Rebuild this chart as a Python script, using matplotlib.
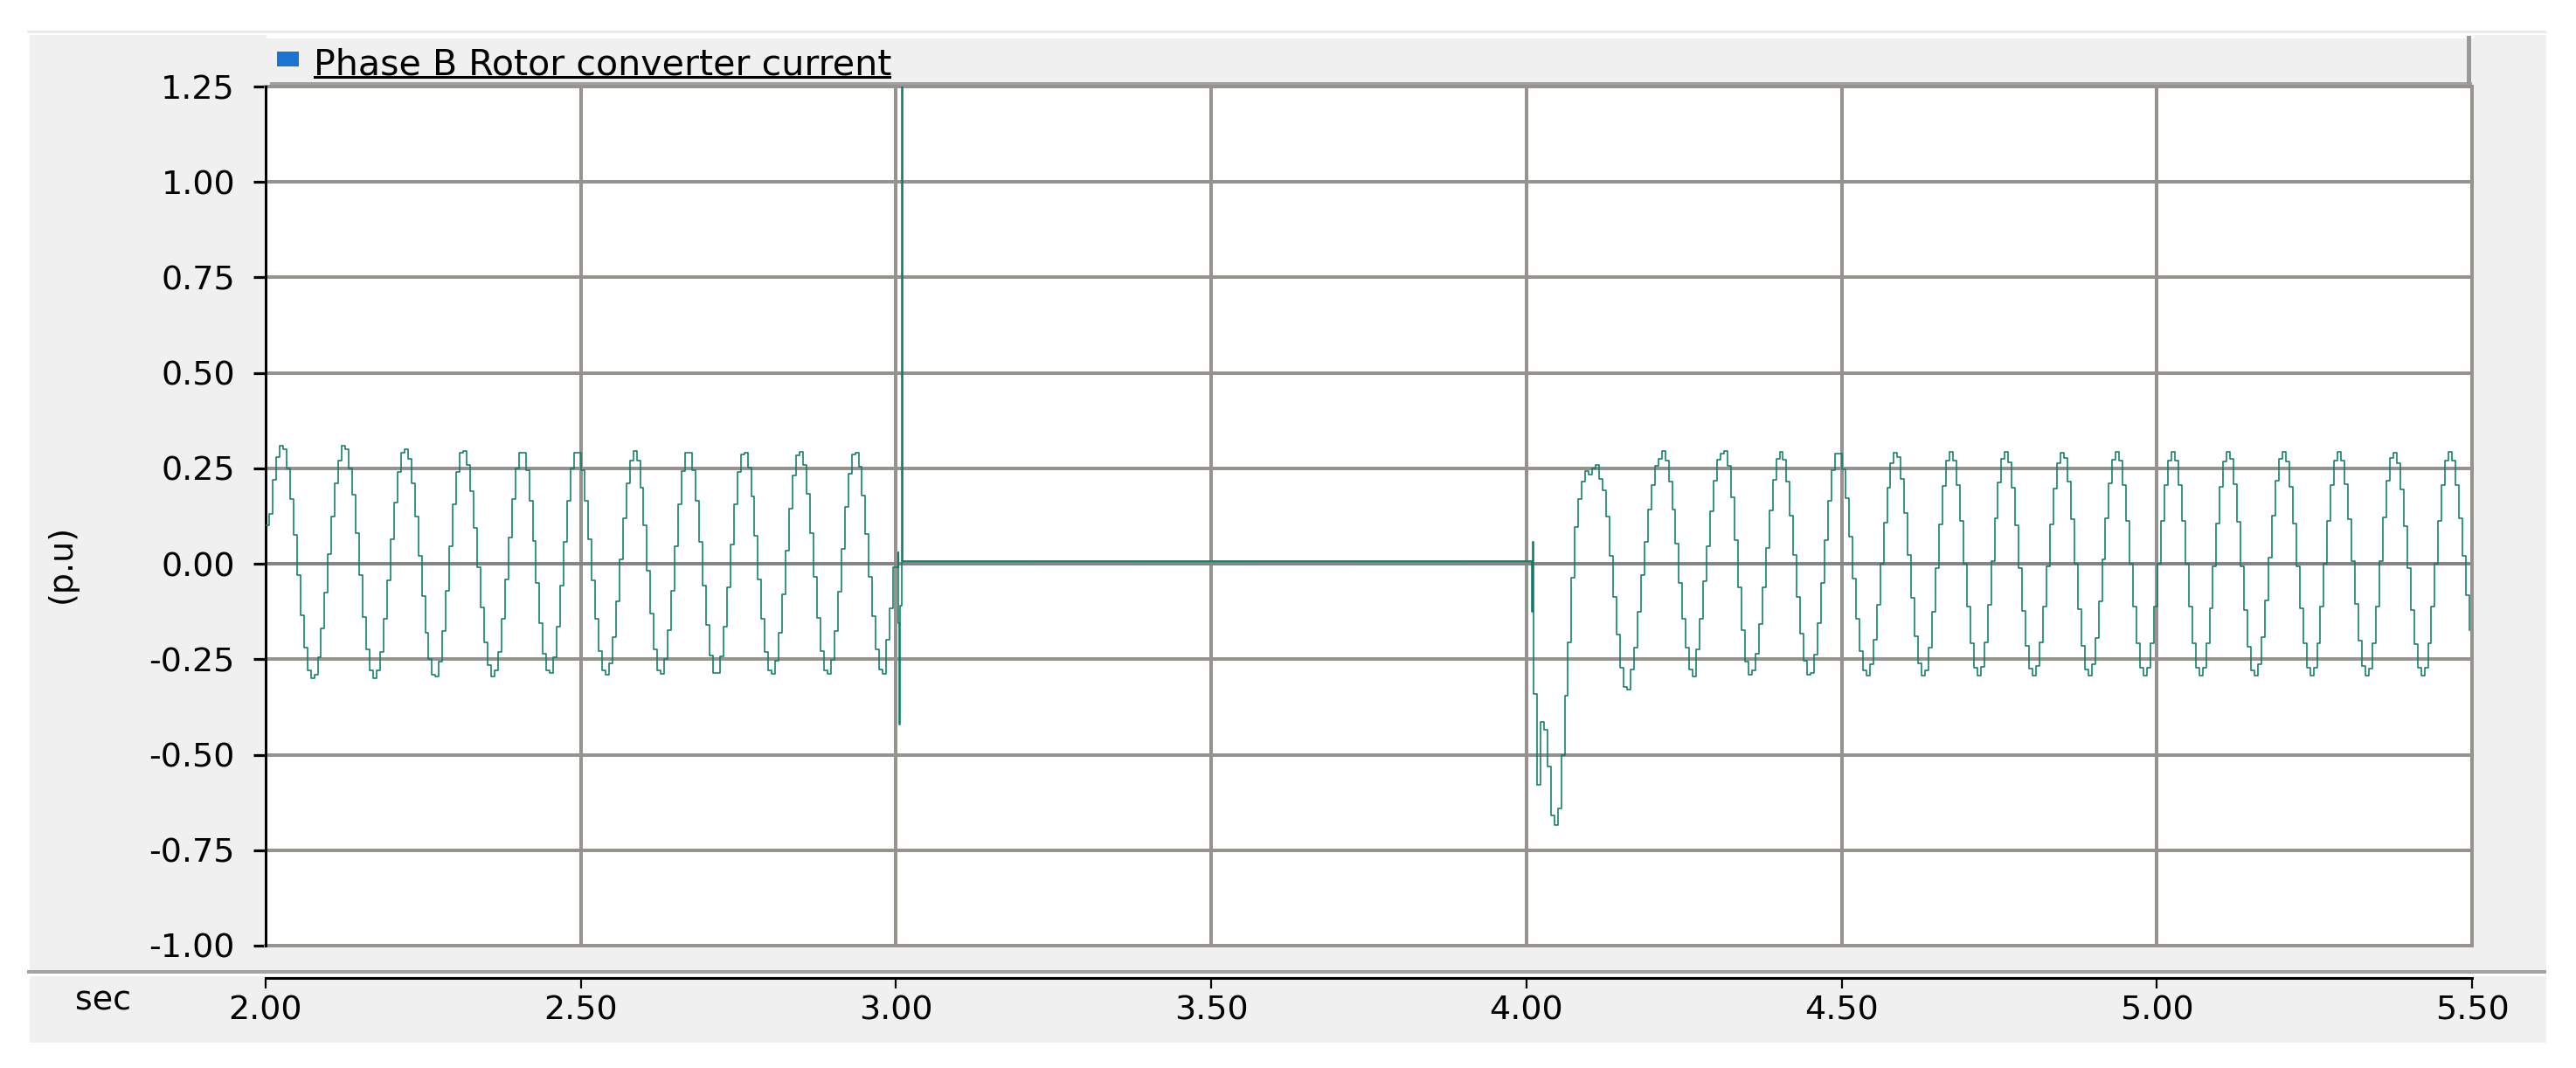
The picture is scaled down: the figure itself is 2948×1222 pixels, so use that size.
import numpy as np
import matplotlib
matplotlib.use("Agg")
import matplotlib.pyplot as plt
from matplotlib.patches import Rectangle

# ---------------- data ----------------
DT = 0.0055                      # sample interval of the staircase signal (s)
PRE_T0 = 2.0                     # first pre-fault sample time
pre_vals = [
    0.10, 0.13, 0.22, 0.28, 0.31,
    0.30, 0.25, 0.17, 0.075, -0.03, -0.135, -0.22, -0.28, -0.30,
    -0.29, -0.245, -0.17, -0.076, 0.026, 0.125, 0.21, 0.27, 0.31,
    0.30, 0.25, 0.18, 0.08, -0.03, -0.14, -0.225, -0.28, -0.30,
    -0.28, -0.23, -0.145, -0.043, 0.064, 0.16, 0.24, 0.29, 0.30,
    0.275, 0.21, 0.125, 0.02, -0.085, -0.18, -0.25, -0.29, -0.295,
    -0.255, -0.175, -0.07, 0.047, 0.155, 0.24, 0.29, 0.295,
    0.26, 0.19, 0.095, -0.01, -0.115, -0.205, -0.265, -0.295,
    -0.28, -0.23, -0.145, -0.04, 0.07, 0.17, 0.25, 0.29,
    0.29, 0.245, 0.165, 0.06, -0.05, -0.155, -0.235, -0.28,
    -0.285, -0.245, -0.165, -0.058, 0.058, 0.165, 0.25, 0.29,
    0.29, 0.245, 0.165, 0.065, -0.044, -0.145, -0.228, -0.278,
    -0.29, -0.26, -0.193, -0.098, 0.011, 0.12, 0.21, 0.27, 0.295,
    0.27, 0.20, 0.10, -0.018, -0.13, -0.223, -0.278,
    -0.288, -0.25, -0.174, -0.07, 0.047, 0.157, 0.243, 0.29,
    0.29, 0.245, 0.164, 0.058, -0.057, -0.16, -0.24, -0.285,
    -0.285, -0.243, -0.164, -0.061, 0.051, 0.157, 0.24, 0.287,
    0.29, 0.252, 0.176, 0.073, -0.04, -0.145, -0.23, -0.28,
    -0.288, -0.253, -0.18, -0.079, 0.035, 0.144, 0.232, 0.284,
    0.293, 0.258, 0.183, 0.08, -0.034, -0.142, -0.228, -0.279,
    -0.288, -0.252, -0.177, -0.074, 0.04, 0.15, 0.237, 0.287,
    0.292, 0.254, 0.179, 0.078, -0.033, -0.138, -0.224, -0.276, -0.289,
    -0.20, -0.117, -0.01,
]

# fault inception transient (irregular times)
fault_t = [3.0030, 3.0039, 3.0053, 3.0067, 3.0087, 3.0101]
fault_v = [0.03, -0.155, -0.42, -0.11, 1.40, 0.006]
HOLD_LEVEL = 0.006               # converter blocked during the fault
HOLD_END = 4.0090

# recovery glitch (irregular times)
recov_t = [4.0090, 4.0105]
recov_v = [-0.125, 0.058]

POST_T0 = 4.0 + 2 * DT           # first regular post-fault sample
post_vals = [
    -0.34, -0.578, -0.415, -0.434, -0.53, -0.658, -0.685, -0.64, -0.50, -0.346, -0.205, -0.037,
    0.097, 0.169, 0.215, 0.243, 0.234, 0.25, 0.258, 0.222, 0.192, 0.123, 0.02, -0.087, -0.186, -0.273, -0.323, -0.33,
    -0.277, -0.22, -0.125, -0.03, 0.058, 0.142, 0.207, 0.257, 0.276, 0.295, 0.27, 0.215, 0.142,
    0.052, -0.05, -0.144, -0.22, -0.276, -0.296, -0.224, -0.143, -0.045, 0.047, 0.138, 0.218, 0.272, 0.289, 0.296,
    0.256, 0.175, 0.062, -0.062, -0.174, -0.256, -0.29,
    -0.28, -0.235, -0.158, -0.062, 0.042, 0.14, 0.22, 0.275, 0.293,
    0.273, 0.215, 0.127, 0.022, -0.086, -0.183, -0.254, -0.29,
    -0.285, -0.238, -0.156, -0.051, 0.062, 0.166, 0.245, 0.288,
    0.288, 0.247, 0.171, 0.071, -0.039, -0.143, -0.228, -0.28,
    -0.292, -0.264, -0.2, -0.107, 0.0, 0.107, 0.2, 0.264, 0.292,
    0.279, 0.223, 0.133, 0.023, -0.09, -0.19, -0.26, -0.292,
    -0.278, -0.219, -0.126, -0.012, 0.104, 0.203, 0.27, 0.293,
    0.271, 0.207, 0.112, 0.0, -0.112, -0.207, -0.271, -0.293,
    -0.27, -0.205, -0.108, 0.006, 0.119, 0.213, 0.275, 0.293,
    0.266, 0.199, 0.101, -0.011, -0.123, -0.215, -0.275, -0.293,
    -0.268, -0.205, -0.113, -0.006, 0.103, 0.197, 0.263, 0.292,
    0.277, 0.216, 0.118, 0.0, -0.118, -0.216, -0.277, -0.292,
    -0.263, -0.195, -0.099, 0.011, 0.12, 0.211, 0.272, 0.293,
    0.271, 0.207, 0.112, 0.0, -0.112, -0.207, -0.271, -0.293,
    -0.271, -0.207, -0.112, 0.0, 0.112, 0.207, 0.271, 0.293,
    0.271, 0.207, 0.112, 0.0, -0.112, -0.207, -0.271, -0.293,
    -0.271, -0.209, -0.116, -0.006, 0.105, 0.201, 0.267, 0.293,
    0.274, 0.209, 0.111, -0.006, -0.122, -0.217, -0.278, -0.292,
    -0.262, -0.193, -0.095, 0.017, 0.127, 0.217, 0.275, 0.293,
    0.267, 0.201, 0.105, -0.006, -0.116, -0.209, -0.271, -0.293,
    -0.271, -0.207, -0.112, 0.0, 0.112, 0.207, 0.271, 0.293,
    0.271, 0.209, 0.116, 0.006, -0.105, -0.201, -0.267, -0.293,
    -0.274, -0.209, -0.111, 0.006, 0.122, 0.217, 0.278, 0.292,
    0.263, 0.195, 0.099, -0.011, -0.12, -0.211, -0.272, -0.293,
    -0.271, -0.207, -0.112, 0.0, 0.112, 0.207, 0.271, 0.293,
    0.271, 0.207, 0.12, 0.02, -0.083, -0.174,
]

x_ticks = [2.0, 2.5, 3.0, 3.5, 4.0, 4.5, 5.0, 5.5]
y_ticks = [-1.00, -0.75, -0.50, -0.25, 0.00, 0.25, 0.50, 0.75, 1.00, 1.25]
legend_label = "Phase B Rotor converter current"
x_unit = "sec"
y_label = "(p.u)"

# ---------------- assemble series ----------------
pre_t = PRE_T0 + DT * np.arange(len(pre_vals))
post_t = POST_T0 + DT * np.arange(len(post_vals))
t_all = np.concatenate([pre_t, fault_t, recov_t, post_t])
v_all = np.concatenate([pre_vals, fault_v, recov_v, post_vals])

hold_t = np.arange(fault_t[-1], HOLD_END, DT)
hold_v = np.full(len(hold_t), HOLD_LEVEL)

# ---------------- figure ----------------
W, H = 2948, 1222
DPI = 200
PT = 72.0 / DPI   # points per pixel
fig = plt.figure(figsize=(W / DPI, H / DPI), dpi=DPI)
fig.patch.set_facecolor("white")
plt.rcParams["font.family"] = ["DejaVu Sans"]

PANEL = "#f0f0f0"
GRID = "#96938e"
ZERO = "#858585"
LINE = "#0f7d66"
FS = 13.7


def px_rect(x0, y0, x1, y1, color, z=0):
    fig.add_artist(Rectangle((x0 / W, 1 - y1 / H), (x1 - x0) / W, (y1 - y0) / H,
                             transform=fig.transFigure, facecolor=color,
                             edgecolor="none", zorder=z))


# background panels
px_rect(31, 35, 2914, 38, "#eaeaea")
px_rect(34, 40, 2914, 1110, PANEL)
px_rect(31, 1110, 2914, 1114, "#a3a3a3")
px_rect(34, 1117, 2914, 1193, PANEL)
# legend strip
px_rect(305, 40, 2831, 44, "white")
px_rect(309, 44, 2823, 94, PANEL)
px_rect(309, 94, 2829, 98, "#a0a0a0")
px_rect(2823, 41, 2828, 98, "#999999")

# axes
L, R, T, B = 304, 2829, 99, 1082
ax = fig.add_axes([L / W, 1 - B / H, (R - L) / W, (B - T) / H])
ax.set_facecolor("white")
ax.set_zorder(2)
ax.set_xlim(x_ticks[0], x_ticks[-1])
ax.set_ylim(y_ticks[0], y_ticks[-1])
ax.set_xticks(x_ticks)
ax.set_yticks(y_ticks)
ax.set_xticklabels([f"{v:.2f}" for v in x_ticks])
ax.set_yticklabels([f"{v:.2f}" for v in y_ticks])

ax.grid(True, color=GRID, lw=4 * PT, zorder=0)
for gl, yv in zip(ax.get_ygridlines(), y_ticks):
    if abs(yv) < 1e-9:
        gl.set_color(ZERO)
ax.set_axisbelow(True)

# edge lines of the plot frame
ax.axhline(y_ticks[-1], color=GRID, lw=4 * PT, clip_on=False, zorder=1)
ax.axhline(y_ticks[0], color=GRID, lw=4 * PT, clip_on=False, zorder=1)
ax.axvline(x_ticks[-1], color=GRID, lw=4 * PT, clip_on=False, zorder=1)

for s in ["top", "right"]:
    ax.spines[s].set_visible(False)
ax.spines["left"].set_color("black")
ax.spines["left"].set_linewidth(3 * PT)
ax.spines["left"].set_zorder(3)
ax.spines["bottom"].set_position(("outward", 36.5 * PT))
ax.spines["bottom"].set_color("black")
ax.spines["bottom"].set_linewidth(3 * PT)

ax.tick_params(axis="y", direction="out", length=14 * PT, width=3.2 * PT,
               color="black", pad=21 * PT, labelsize=FS, labelcolor="black")
ax.tick_params(axis="x", direction="out", length=12 * PT, width=2.2 * PT,
               color="black", pad=8 * PT, labelsize=FS, labelcolor="black")

# signal
ax.plot(t_all, v_all, drawstyle="steps-post", color=LINE, lw=1.6 * PT, zorder=4)
ax.plot([fault_t[-1], HOLD_END], [HOLD_LEVEL, HOLD_LEVEL], color=LINE, lw=1.4 * PT, zorder=4)
ax.plot(hold_t, hold_v, ls="none", marker=3, ms=2.2 * PT, mew=0.7 * PT, color="#4f9a8a", zorder=4)

# texts
fig.text(86 / W, 1 - 1155 / H, x_unit, fontsize=FS, va="baseline", ha="left")
fig.text(71 / W, 1 - 645 / H, y_label, fontsize=FS, rotation=90, va="center", ha="center")

# legend entry
px_rect(317, 59, 342, 76, "#1a74d4", z=5)
lt = fig.text(359 / W, 1 - 85 / H, legend_label, fontsize=14.8, va="baseline", ha="left", zorder=5)
fig.canvas.draw()
bb = lt.get_window_extent()
px_rect(bb.x0, 87, bb.x1, 90, "black", z=5)

fig.savefig("out.png", dpi=DPI, facecolor="white")
